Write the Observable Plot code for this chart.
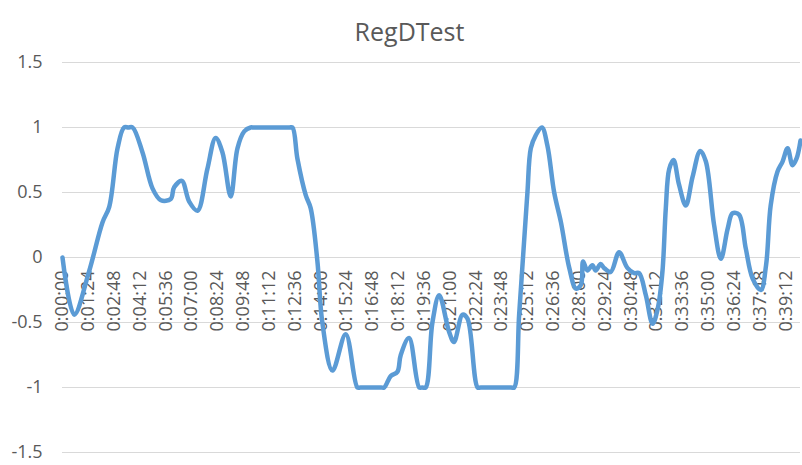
<!DOCTYPE html>
<html>
<head>
<meta charset="utf-8">
<script src="https://cdn.jsdelivr.net/npm/d3@7"></script>
<script src="https://cdn.jsdelivr.net/npm/@observablehq/plot@0.6"></script>
<style>
  html, body { margin: 0; padding: 0; background: #fff; }
  #chart svg { display: block; }
</style>
</head>
<body>
<div id="chart"></div>
<script>
const title = "RegDTest";
// elapsed time in seconds
const times = [0, 38, 86, 130, 152, 179, 200, 214, 228, 260, 293, 320, 352, 363, 388, 412, 439, 471, 498, 520, 547, 569, 591, 612, 622, 680, 738, 748, 764, 791, 807, 829, 845, 878, 921, 959, 969, 1003, 1036, 1046, 1068, 1089, 1100, 1127, 1160, 1170, 1181, 1203, 1225, 1257, 1273, 1301, 1317, 1350, 1360, 1410, 1459, 1469, 1485, 1501, 1512, 1523, 1539, 1559, 1577, 1599, 1621, 1648, 1670, 1686, 1693, 1707, 1723, 1734, 1750, 1761, 1783, 1810, 1837, 1859, 1875, 1897, 1919, 1936, 1951, 1962, 1973, 1987, 2005, 2027, 2049, 2074, 2092, 2119, 2141, 2163, 2179, 2200, 2222, 2244, 2271, 2288, 2303, 2325, 2342, 2358, 2374, 2387, 2400];
const values = [0, -0.44, -0.11, 0.27, 0.39, 0.84, 1, 1, 1, 0.81, 0.53, 0.44, 0.45, 0.54, 0.59, 0.43, 0.36, 0.68, 0.92, 0.81, 0.47, 0.84, 0.97, 1, 1, 1, 1, 1, 0.76, 0.48, 0.38, -0.03, -0.5, -0.87, -0.59, -1, -1, -1, -1, -1, -0.91, -0.88, -0.75, -0.62, -1, -1, -1, -0.5, -0.29, -0.57, -0.65, -0.44, -0.47, -1, -1, -1, -1, -1, -0.44, 0.12, 0.5, 0.84, 0.94, 1, 0.86, 0.5, 0.27, -0.08, -0.24, -0.21, -0.03, -0.1, -0.06, -0.1, -0.05, -0.08, -0.11, 0.04, -0.08, -0.12, -0.12, -0.29, -0.51, -0.39, -0.11, 0.38, 0.68, 0.75, 0.56, 0.40, 0.62, 0.82, 0.74, 0.25, -0.01, 0.22, 0.34, 0.33, 0.07, -0.16, -0.25, -0.06, 0.40, 0.66, 0.74, 0.84, 0.71, 0.76, 0.90];
const xTicks = d3.range(0, 2353, 84);
const yTicks = [-1.5, -1, -0.5, 0, 0.5, 1, 1.5];

const data = times.map((t, i) => ({t, v: values[i]}));
const fmtTime = s => {
  const h = Math.floor(s / 3600), m = Math.floor((s % 3600) / 60), sec = s % 60;
  return `${h}:${String(m).padStart(2, "0")}:${String(sec).padStart(2, "0")}`;
};

const font = "'Open Sans', 'Liberation Sans', sans-serif";
const plot = Plot.plot({
  width: 802,
  height: 465,
  marginLeft: 62,
  marginRight: 2,
  marginTop: 62,
  marginBottom: 13,
  style: {fontFamily: font, background: "#fff"},
  x: {domain: [0, 2400], axis: null},
  y: {domain: [-1.5, 1.5], axis: null},
  marks: [
    Plot.ruleY(yTicks, {stroke: "#d9d9d9", strokeWidth: 1.2}),
    Plot.axisY(yTicks, {tickSize: 0, tickPadding: 20, tickFormat: d => String(d), fontSize: 18, fill: "#595959", label: null}),
    Plot.text(xTicks, {x: d => d, y: () => 0, text: fmtTime, rotate: -90, textAnchor: "end", dy: 13, fontSize: 18, fill: "#595959"}),
    Plot.line(data, {x: "t", y: "v", stroke: "#5b9bd5", strokeWidth: 4.5, curve: "catmull-rom", strokeLinejoin: "round", strokeLinecap: "round"}),
    Plot.text([title], {frameAnchor: "top", dx: -22, dy: -39, fontSize: 25, fill: "#595959"})
  ]
});
document.getElementById("chart").appendChild(plot);
</script>
</body>
</html>
